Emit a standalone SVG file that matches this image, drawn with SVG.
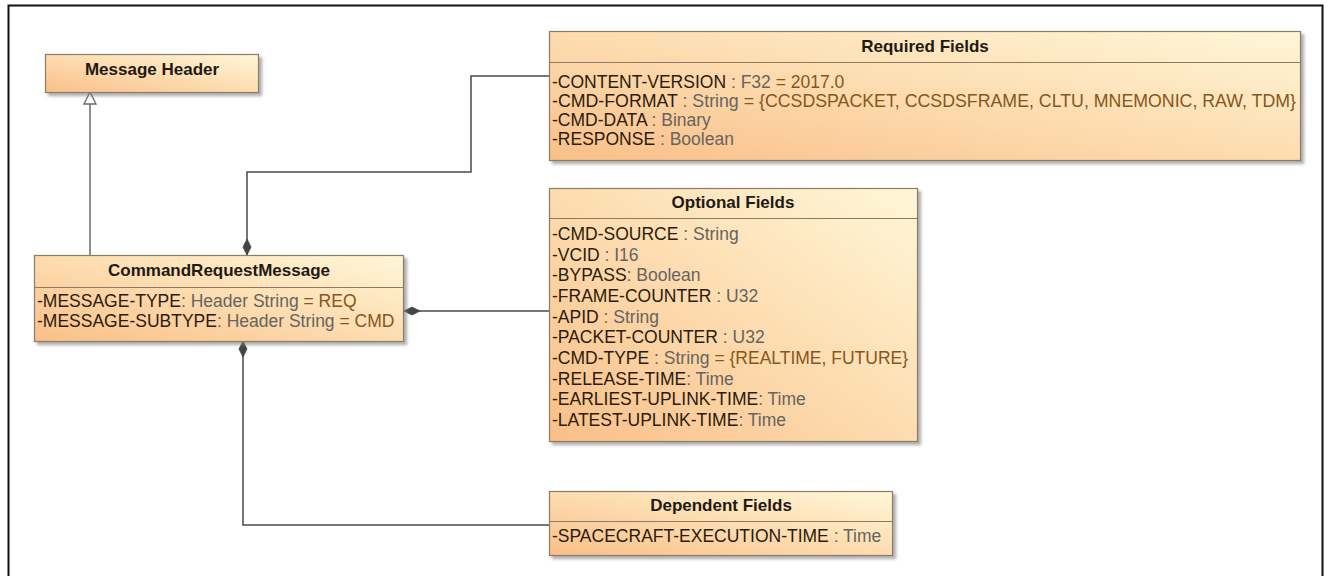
<svg xmlns="http://www.w3.org/2000/svg" width="1330" height="576" viewBox="0 0 1330 576">
<style>
.box{stroke:#8c7b63;stroke-width:1.2;filter:url(#sh)}
.sep{stroke:#8c7b63;stroke-width:1.2}
.ttl{font-family:"Liberation Sans",Arial,sans-serif;font-weight:bold;font-size:17px;fill:#1e1a14;text-anchor:middle}
.att{font-family:"Liberation Sans",Arial,sans-serif;font-size:17.5px;fill:#2a1c0e}
.ty{fill:#666460}
.va{fill:#87561a}
.con{fill:none;stroke:#4a4a4a;stroke-width:1.5}
.gen{fill:none;stroke:#6a6a6a;stroke-width:1.5}
</style>
<defs>
<linearGradient id="g" x1="0" y1="1" x2="1" y2="0">
<stop offset="0" stop-color="#f9bf88"/>
<stop offset="0.5" stop-color="#fddcb0"/>
<stop offset="1" stop-color="#fff7d8"/>
</linearGradient>
<filter id="sh" x="-5%" y="-10%" width="115%" height="130%">
<feDropShadow dx="3" dy="3" stdDeviation="1.5" flood-color="#7a7a7a" flood-opacity="0.6"/>
</filter>
<marker id="dia" markerUnits="userSpaceOnUse" markerWidth="18" markerHeight="10" refX="0" refY="5" orient="auto" viewBox="0 0 18 10" overflow="visible">
<polygon points="0,5 8,1 16,5 8,9" fill="#444" stroke="#444" stroke-width="0.8"/>
</marker>
<marker id="tri" markerUnits="userSpaceOnUse" markerWidth="14" markerHeight="14" refX="0" refY="7" orient="auto" viewBox="0 0 14 14" overflow="visible">
<polygon points="0,1 12,7 0,13" fill="#fff" stroke="#6a6a6a" stroke-width="1.3"/>
</marker>
</defs>
<rect x="0" y="0" width="1330" height="576" fill="#fff"/>
<rect x="8.5" y="5.5" width="1314" height="620" fill="none" stroke="#111" stroke-width="2"/>

<g id="connectors">
<path class="gen" d="M90 255 V104" marker-end="url(#tri)"/>
<path class="con" d="M247 255 V172 H471 V76 H549" marker-start="url(#dia)"/>
<path class="con" d="M404 311 H549" marker-start="url(#dia)"/>
<path class="con" d="M243 341 V525 H549" marker-start="url(#dia)"/>
</g>

<g id="message-header">
<rect class="box" x="45.5" y="54.5" width="213" height="38" fill="url(#g)"/>
<text class="ttl" x="152" y="75">Message Header</text>
</g>

<g id="command-request-message">
<rect class="box" x="34.5" y="255.5" width="369" height="86" fill="url(#g)"/>
<line class="sep" x1="34.5" y1="287.5" x2="403.5" y2="287.5"/>
<text class="ttl" x="219" y="276">CommandRequestMessage</text>
<text class="att" x="37" y="307">-MESSAGE-TYPE<tspan class="ty">: Header String </tspan><tspan class="va">= REQ</tspan></text>
<text class="att" x="37" y="327">-MESSAGE-SUBTYPE<tspan class="ty">: Header String </tspan><tspan class="va">= CMD</tspan></text>
</g>

<g id="required-fields">
<rect class="box" x="549.5" y="31.5" width="751" height="129" fill="url(#g)"/>
<line class="sep" x1="549.5" y1="62.5" x2="1300.5" y2="62.5"/>
<text class="ttl" x="925" y="52">Required Fields</text>
<text class="att" x="552" y="88">-CONTENT-VERSION <tspan class="ty">: F32 </tspan><tspan class="va">= 2017.0</tspan></text>
<text class="att" x="552" y="107" textLength="744" lengthAdjust="spacingAndGlyphs">-CMD-FORMAT <tspan class="ty">: String </tspan><tspan class="va">= {CCSDSPACKET, CCSDSFRAME, CLTU, MNEMONIC, RAW, TDM}</tspan></text>
<text class="att" x="552" y="126">-CMD-DATA <tspan class="ty">: Binary</tspan></text>
<text class="att" x="552" y="145">-RESPONSE <tspan class="ty">: Boolean</tspan></text>
</g>

<g id="optional-fields">
<rect class="box" x="549.5" y="188.5" width="368" height="253" fill="url(#g)"/>
<line class="sep" x1="549.5" y1="218.5" x2="917.5" y2="218.5"/>
<text class="ttl" x="733" y="208">Optional Fields</text>
<text class="att" x="552" y="240">-CMD-SOURCE <tspan class="ty">: String</tspan></text>
<text class="att" x="552" y="260.7">-VCID <tspan class="ty">: I16</tspan></text>
<text class="att" x="552" y="281.3">-BYPASS<tspan class="ty">: Boolean</tspan></text>
<text class="att" x="552" y="302">-FRAME-COUNTER <tspan class="ty">: U32</tspan></text>
<text class="att" x="552" y="322.7">-APID <tspan class="ty">: String</tspan></text>
<text class="att" x="552" y="343.3">-PACKET-COUNTER <tspan class="ty">: U32</tspan></text>
<text class="att" x="552" y="364">-CMD-TYPE <tspan class="ty">: String </tspan><tspan class="va">= {REALTIME, FUTURE}</tspan></text>
<text class="att" x="552" y="384.7">-RELEASE-TIME<tspan class="ty">: Time</tspan></text>
<text class="att" x="552" y="405.3">-EARLIEST-UPLINK-TIME<tspan class="ty">: Time</tspan></text>
<text class="att" x="552" y="426">-LATEST-UPLINK-TIME<tspan class="ty">: Time</tspan></text>
</g>

<g id="dependent-fields">
<rect class="box" x="549.5" y="491.5" width="343" height="64" fill="url(#g)"/>
<line class="sep" x1="549.5" y1="521.5" x2="892.5" y2="521.5"/>
<text class="ttl" x="721" y="511">Dependent Fields</text>
<text class="att" x="552" y="542">-SPACECRAFT-EXECUTION-TIME <tspan class="ty">: Time</tspan></text>
</g>
</svg>
